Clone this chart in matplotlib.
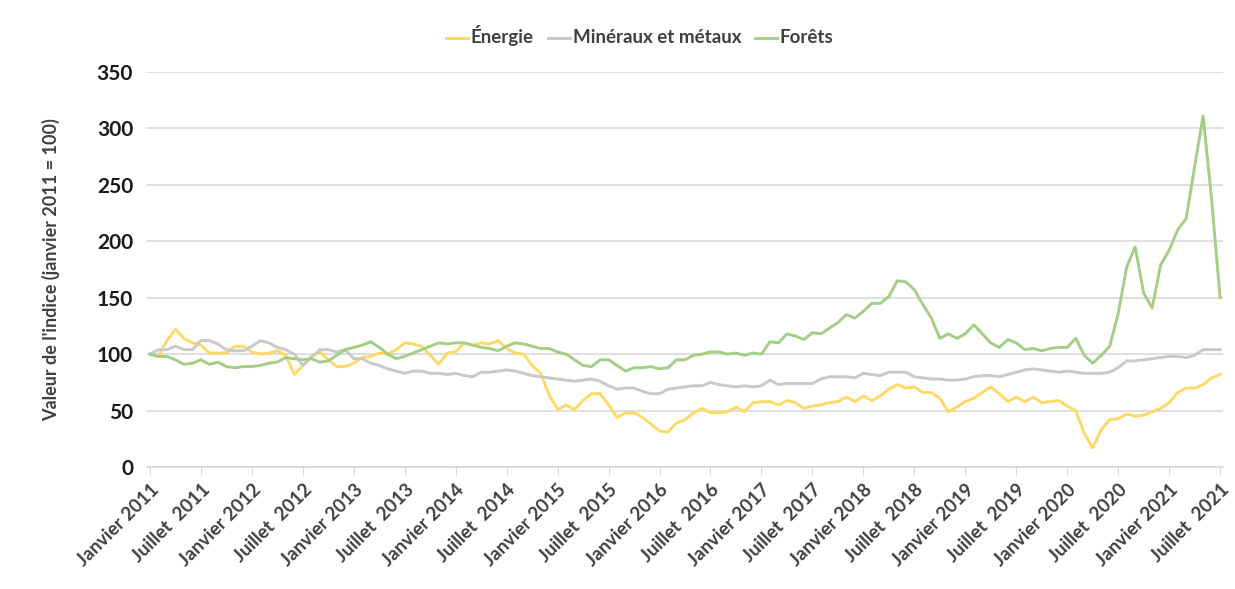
import numpy as np
import matplotlib.pyplot as plt

# monthly index values, Jan 2011 - Jul 2021 (Jan 2011 = 100)
energie = [100, 98, 112, 122, 114, 110, 108, 101, 101, 101, 107, 107,
           102, 100, 101, 103, 99, 82, 90, 98, 102, 95, 89, 89,
           92, 97, 98, 101, 100, 104, 110, 109, 107, 99, 91, 101,
           102, 110, 108, 110, 109, 112, 105, 101, 100, 90, 83, 64,
           51, 55, 51, 59, 65, 65, 55, 44, 48, 48, 44, 38,
           32, 31, 39, 42, 48, 52, 48, 48, 49, 53, 49, 57,
           58, 58, 55, 59, 57, 52, 54, 55, 57, 58, 62, 58,
           63, 59, 63, 69, 73, 70, 71, 66, 66, 61, 49, 53,
           58, 61, 66, 71, 65, 58, 62, 58, 62, 57, 58, 59,
           54, 50, 30, 17, 33, 42, 43, 47, 45, 46, 49, 52,
           57, 66, 70, 70, 73, 79, 82]
mineraux = [100, 104, 104, 107, 104, 104, 112, 112, 109, 104, 103, 103,
            107, 112, 110, 106, 104, 100, 90, 97, 104, 104, 102, 104,
            96, 96, 92, 90, 87, 85, 83, 85, 85, 83, 83, 82,
            83, 81, 80, 84, 84, 85, 86, 85, 83, 81, 80, 79,
            78, 77, 76, 77, 78, 76, 72, 69, 70, 70, 67, 65,
            65, 69, 70, 71, 72, 72, 75, 73, 72, 71, 72, 71,
            72, 77, 73, 74, 74, 74, 74, 78, 80, 80, 80, 79,
            83, 82, 81, 84, 84, 84, 80, 79, 78, 78, 77, 77,
            78, 80, 81, 81, 80, 82, 84, 86, 87, 86, 85, 84,
            85, 84, 83, 83, 83, 84, 88, 94, 94, 95, 96, 97,
            98, 98, 97, 99, 104, 104, 104]
forets = [100, 98, 98, 95, 91, 92, 95, 91, 93, 89, 88, 89,
          89, 90, 92, 93, 97, 96, 95, 96, 93, 94, 99, 104,
          106, 108, 111, 106, 100, 96, 98, 101, 104, 107, 110, 109,
          110, 110, 108, 106, 105, 103, 107, 110, 109, 107, 105, 105,
          102, 100, 95, 90, 89, 95, 95, 90, 85, 88, 88, 89,
          87, 88, 95, 95, 99, 100, 102, 102, 100, 101, 99, 101,
          100, 111, 110, 118, 116, 113, 119, 118, 123, 128, 135, 132,
          138, 145, 145, 151, 165, 164, 157, 144, 132, 114, 118, 114,
          118, 126, 118, 110, 106, 113, 110, 104, 105, 103, 105, 106,
          106, 114, 99, 92, 99, 107, 136, 177, 195, 154, 141, 179,
          192, 210, 220, 266, 311, 237, 150]

tick_labels = []
for y in range(2011, 2022):
    tick_labels.append("Janvier %d" % y)
    tick_labels.append("Juillet  %d" % y)

plt.rcParams['font.family'] = ['Lato', 'DejaVu Sans']

fig = plt.figure(figsize=(12.35, 5.89), dpi=100)
ax = fig.add_axes([0.119, 0.207, 0.871, 0.671])

x = np.arange(len(energie))
ax.plot(x, energie, color='#FFD966', lw=2.1, label='Énergie')
ax.plot(x, mineraux, color='#C9C9C9', lw=2.1, label='Minéraux et métaux')
ax.plot(x, forets, color='#A3CF85', lw=2.1, label='Forêts')

ax.set_ylim(0, 350)
ax.set_yticks(range(0, 351, 50))
ax.set_xlim(-0.35, 126.3)
ax.set_xticks(range(0, 127, 6))
ax.set_xticklabels(tick_labels, rotation=45, ha='right', va='top',
                   rotation_mode='anchor', fontsize=13.5, fontweight='bold',
                   color='#404040')
for lab in ax.get_yticklabels():
    lab.set_fontsize(15)
    lab.set_fontweight('bold')
    lab.set_color('#1a1a1a')

ax.grid(axis='y', color='#D9D9D9', lw=1.2)
ax.set_axisbelow(True)
for s in ['top', 'right', 'left']:
    ax.spines[s].set_visible(False)
ax.spines['bottom'].set_color('#D9D9D9')
ax.spines['bottom'].set_linewidth(1.2)
ax.tick_params(axis='x', length=6, color='#D9D9D9', pad=4)
ax.tick_params(axis='y', length=0, pad=10)

ax.set_ylabel("Valeur de l'indice (janvier 2011 = 100)", fontsize=13,
              fontweight='bold', color='#404040', labelpad=26)

leg = fig.legend(loc='center', bbox_to_anchor=(0.518, 0.94), ncol=3,
                 frameon=False, handlelength=1.6, handletextpad=0.2,
                 columnspacing=1.0)
for t in leg.get_texts():
    t.set_fontsize(13.5)
    t.set_fontweight('bold')
    t.set_color('#404040')

fig.savefig('out.png', dpi=100)
